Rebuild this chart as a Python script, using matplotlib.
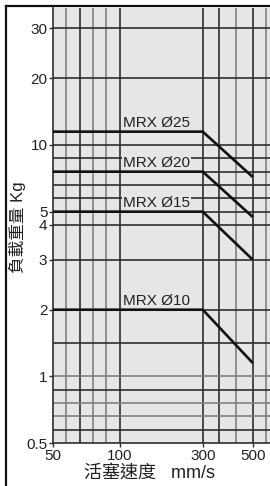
import numpy as np
import matplotlib.pyplot as plt
from matplotlib.lines import Line2D

# speed (mm/s) and allowable load (kg) per bore size
speed = [50, 300, 500]
load_25 = [12, 12, 7.6]
load_20 = [8, 8, 4.6]
load_15 = [5, 5, 3]
load_10 = [2, 2, 1.2]
names = ["MRX Ø25", "MRX Ø20", "MRX Ø15", "MRX Ø10"]

x_ticks = [50, 100, 300, 500]
y_ticks = [0.5, 1, 2, 3, 4, 5, 10, 20, 30]
y_tick_labels = ["0.5", "1", "2", "3", "4", "5", "10", "20", "30"]

# the chart uses a hand made, piecewise axis
xv = [40, 50, 100, 300, 500, 700]
xp = [-13.3, 0, 66.5, 149.7, 199.7, 249.7]
yv = [0.4, 0.5, 1, 1.5, 2, 3, 4, 10, 20, 30, 50]
yp = [-13.3, 0, 66.7, 100, 133.3, 183.3, 218, 298, 364.7, 414.7, 514.7]


def fwd_x(v):
    return np.interp(v, xv, xp)


def inv_x(p):
    return np.interp(p, xp, xv)


def fwd_y(v):
    return np.interp(v, yv, yp)


def inv_y(p):
    return np.interp(p, yp, yv)


bg = "#e6e6e8"
dark = "#2e2e2e"
grey = "#808080"

fig = plt.figure(figsize=(2.7, 4.86), dpi=100)
ax = fig.add_axes([53 / 270, 1 - 443 / 486, 217 / 270, 435 / 486])
ax.set_facecolor(bg)
ax.set_xscale("function", functions=(fwd_x, inv_x))
ax.set_yscale("function", functions=(fwd_y, inv_y))
ax.set_xlim(50, 569)
ax.set_ylim(0.5, 34.06)

# grid
for v, c in [(60, grey), (70, dark), (80, grey), (90, grey), (100, dark),
             (300, dark), (367, dark), (433, grey), (500, dark), (553, grey)]:
    ax.axvline(v, color=c, lw=1.2, zorder=1)
for v, c in [(0.6, dark), (0.7, grey), (0.8, grey), (0.9, dark), (1, grey),
             (1.5, dark), (2, dark), (3, dark), (4, dark), (5, dark), (6, dark),
             (7, dark), (8, dark), (9, dark), (10, dark), (20, dark), (30, dark)]:
    ax.axhline(v, color=c, lw=1.2, zorder=1)

for load, name in zip([load_25, load_20, load_15, load_10], names):
    ax.plot(speed, load, color="#111111", lw=1.9, zorder=3, solid_capstyle="butt")
    ax.annotate(name, (108, load[0]), xytext=(0, 1.5), textcoords="offset points",
                ha="left", va="bottom", fontsize=11, family="Liberation Sans",
                color="#222222", zorder=4,
                bbox=dict(facecolor=bg, edgecolor="none", pad=0.6))

ax.set_xticks(x_ticks)
ax.set_xticklabels([str(v) for v in x_ticks])
ax.set_yticks(y_ticks)
ax.set_yticklabels(y_tick_labels)
ax.minorticks_off()
ax.tick_params(axis="both", length=3, width=1, color=dark, pad=1,
               labelsize=11, labelcolor="#222222")
for lab in ax.get_xticklabels() + ax.get_yticklabels():
    lab.set_family("Liberation Sans")

for s in ["top", "right"]:
    ax.spines[s].set_visible(False)
for s in ["left", "bottom"]:
    ax.spines[s].set_color(dark)
    ax.spines[s].set_linewidth(1.2)

fig.text(150 / 270, 1 - 473 / 486, "活塞速度   mm/s", ha="center", va="center",
         fontsize=13, family=["Liberation Sans", "Noto Sans CJK TC"], color="#222222")
fig.text(17 / 270, 1 - 227 / 486, "負載重量 Kg", ha="center", va="center",
         rotation=90, fontsize=12, family=["Liberation Sans", "Noto Sans CJK TC"],
         color="#222222")

# outer frame (left and top)
fig.add_artist(Line2D([6 / 270, 6 / 270], [0, 1 - 6 / 486], color="#111111", lw=1.6))
fig.add_artist(Line2D([6 / 270, 1], [1 - 6 / 486, 1 - 6 / 486], color="#111111", lw=1.6))

fig.savefig("out.png", dpi=100)
